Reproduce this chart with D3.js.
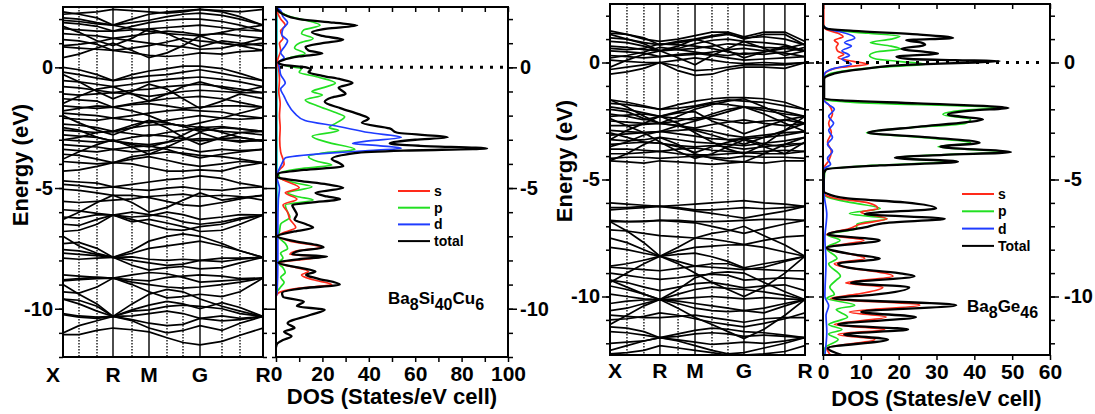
<!DOCTYPE html>
<html>
<head>
<meta charset="utf-8">
<script src="https://cdn.jsdelivr.net/npm/d3@7/dist/d3.min.js"></script>
<style>
body { margin: 0; background: #fff; }
svg text { font-family: "Liberation Sans", Arial, sans-serif; font-weight: bold; fill: #000; }
</style>
</head>
<body>
<div id="chart-area"></div>
<script>
// ---- k-path (fraction along path) and labels ----
const leftKPos = [0, 0.08, 0.17, 0.25, 0.345, 0.43, 0.52, 0.60, 0.685, 0.795, 0.885, 1];
const rightKPos = [0, 0.087, 0.174, 0.256, 0.349, 0.436, 0.523, 0.605, 0.687, 0.79, 0.897, 1];
const kLabels = ["X", "", "", "R", "", "M", "", "", "G", "", "", "R"];

// ---- band energies (eV) at each k-point, Ba8Si40Cu6 ----
const leftBands = [
    [-11.07, -11.07, -10.9, -10.8, -10.87, -10.96, -11.2, -11.4, -11.5, -11.35, -11.1, -10.8],
    [-10.2, -10.3, -10.35, -10.32, -10.45, -10.6, -10.7, -10.65, -10.4, -10.5, -10.45, -10.32],
    [-9.6, -9.8, -10.1, -10.32, -10.1, -10.05, -9.9, -9.85, -9.9, -10.0, -10.2, -10.32],
    [-10.25, -10.35, -10.4, -10.32, -10.3, -10.2, -10.1, -10.2, -10.4, -10.3, -10.4, -10.32],
    [-9.6, -9.65, -9.9, -10.32, -10.05, -9.85, -9.7, -9.8, -10.0, -9.75, -9.95, -10.32],
    [-9.0, -9.4, -9.8, -10.32, -9.8, -9.4, -9.2, -9.3, -9.6, -9.9, -10.1, -10.32],
    [-11.0, -10.7, -10.5, -10.32, -10.5, -10.8, -11.0, -10.9, -10.7, -10.9, -10.6, -10.32],
    [-8.8, -8.75, -8.7, -8.73, -8.9, -9.0, -9.1, -9.15, -9.1, -9.0, -8.9, -8.73],
    [-8.85, -8.8, -8.75, -8.73, -8.8, -8.85, -8.7, -8.65, -8.6, -8.65, -8.75, -8.73],
    [-8.6, -8.65, -8.7, -8.73, -8.6, -8.5, -8.55, -8.7, -8.9, -8.85, -8.8, -8.73],
    [-9.3, -9.35, -9.1, -8.73, -9.0, -9.3, -9.55, -9.5, -9.4, -9.5, -9.3, -8.73],
    [-7.55, -7.6, -7.75, -7.87, -7.7, -7.5, -7.4, -7.3, -7.2, -7.4, -7.6, -7.87],
    [-7.7, -7.75, -7.8, -7.87, -8.0, -8.1, -8.2, -8.15, -8.0, -8.05, -7.95, -7.87],
    [-7.9, -7.95, -7.9, -7.87, -7.85, -7.95, -8.0, -7.95, -8.0, -7.9, -7.9, -7.87],
    [-7.3, -7.25, -7.5, -7.87, -8.2, -8.4, -8.3, -8.25, -8.35, -8.3, -8.1, -7.87],
    [-7.0, -7.4, -7.7, -7.87, -7.6, -7.2, -7.0, -6.9, -7.0, -7.3, -7.6, -7.87],
    [-6.2, -6.25, -6.1, -6.12, -6.3, -6.5, -6.7, -6.75, -6.6, -6.5, -6.3, -6.12],
    [-6.5, -6.55, -6.3, -6.12, -6.0, -6.1, -6.2, -6.4, -6.5, -6.4, -6.25, -6.12],
    [-5.9, -5.95, -6.05, -6.12, -6.2, -6.15, -6.0, -6.1, -6.3, -6.2, -6.1, -6.12],
    [-6.8, -6.75, -6.5, -6.12, -6.4, -6.3, -6.45, -6.6, -6.8, -6.75, -6.5, -6.12],
    [-6.3, -6.0, -5.6, -5.3, -5.6, -6.0, -5.8, -5.5, -5.2, -5.5, -5.4, -5.3],
    [-5.55, -5.6, -5.55, -5.5, -5.45, -5.35, -5.3, -5.25, -5.35, -5.3, -5.35, -5.5],
    [-5.05, -5.1, -5.2, -5.3, -5.3, -5.4, -5.55, -5.7, -5.75, -5.6, -5.45, -5.3],
    [-4.85, -4.9, -5.0, -4.95, -5.05, -5.1, -5.0, -4.95, -5.05, -5.1, -5.0, -4.95],
    [-4.7, -4.75, -4.8, -4.95, -4.85, -4.75, -4.65, -4.6, -4.5, -4.6, -4.8, -4.95],
    [-4.3, -4.25, -4.1, -3.95, -4.0, -4.15, -4.3, -4.3, -4.25, -4.3, -4.1, -3.95],
    [-3.9, -3.95, -4.0, -3.95, -3.8, -3.7, -3.85, -4.0, -4.1, -4.0, -3.9, -3.95],
    [-3.6, -3.65, -3.8, -3.95, -3.7, -3.6, -3.5, -3.55, -3.65, -3.7, -3.8, -3.95],
    [-3.4, -3.45, -3.5, -3.4, -3.5, -3.45, -3.3, -3.35, -3.5, -3.4, -3.45, -3.4],
    [-3.2, -3.25, -3.3, -3.4, -3.3, -3.25, -3.4, -3.6, -3.75, -3.6, -3.5, -3.4],
    [-3.0, -3.05, -3.1, -3.05, -3.15, -3.2, -3.1, -3.0, -2.95, -3.0, -3.05, -3.05],
    [-2.8, -2.85, -2.9, -3.05, -2.9, -2.8, -2.85, -2.95, -3.05, -2.95, -2.9, -3.05],
    [-2.6, -2.65, -2.7, -2.65, -2.75, -2.85, -2.7, -2.6, -2.55, -2.65, -2.7, -2.65],
    [-2.35, -2.4, -2.5, -2.65, -2.5, -2.4, -2.35, -2.4, -2.5, -2.45, -2.55, -2.65],
    [-2.1, -2.15, -2.2, -2.1, -2.2, -2.3, -2.2, -2.1, -2.0, -2.1, -2.15, -2.1],
    [-1.9, -1.95, -2.0, -2.1, -2.0, -1.9, -1.8, -1.75, -1.8, -1.85, -2.0, -2.1],
    [-1.6, -1.65, -1.7, -1.65, -1.55, -1.5, -1.6, -1.7, -1.65, -1.6, -1.6, -1.65],
    [-1.3, -1.35, -1.4, -1.65, -1.5, -1.4, -1.3, -1.25, -1.2, -1.3, -1.45, -1.65],
    [-1.1, -1.15, -1.1, -1.05, -1.1, -1.2, -1.1, -1.0, -0.95, -1.0, -1.05, -1.05],
    [-0.8, -0.85, -0.95, -1.05, -0.95, -0.9, -0.8, -0.75, -0.7, -0.8, -0.9, -1.05],
    [-0.55, -0.6, -0.7, -0.8, -0.7, -0.6, -0.5, -0.45, -0.4, -0.5, -0.6, -0.8],
    [-0.2, -0.3, -0.45, -0.55, -0.45, -0.35, -0.3, -0.2, -0.1, -0.25, -0.4, -0.55],
    [0.0, -0.1, -0.3, -0.55, -0.3, -0.15, -0.05, 0.05, 0.05, -0.05, -0.25, -0.55],
    [-0.3, -0.6, -1.0, -1.3, -1.0, -0.7, -0.9, -1.3, -1.7, -1.4, -1.1, -1.3],
    [-1.5, -1.2, -0.9, -0.8, -1.1, -1.4, -1.1, -0.8, -0.6, -0.85, -1.0, -0.8],
    [-2.0, -2.3, -2.6, -2.8, -2.5, -2.2, -2.5, -2.9, -3.2, -2.9, -2.7, -2.8],
    [-3.8, -3.5, -3.2, -3.0, -3.3, -3.6, -3.3, -3.0, -2.7, -3.0, -3.1, -3.0],
    [-2.5, -2.6, -2.9, -3.05, -3.2, -3.3, -3.1, -2.8, -2.45, -2.7, -2.9, -3.05],
    [-3.0, -2.9, -2.7, -2.65, -2.4, -2.2, -2.3, -2.45, -2.65, -2.5, -2.55, -2.65],
    [-1.8, -1.7, -1.6, -1.65, -1.8, -2.0, -2.3, -2.45, -2.3, -2.1, -1.9, -1.65],
    [0.85, 0.8, 0.75, 0.7, 0.8, 0.9, 1.05, 1.2, 1.1, 1.0, 0.9, 0.7],
    [1.15, 1.1, 0.95, 0.7, 0.6, 0.5, 0.45, 0.5, 0.6, 0.55, 0.65, 0.7],
    [0.9, 0.95, 1.05, 1.2, 1.1, 1.0, 0.9, 0.85, 0.75, 0.8, 0.95, 1.2],
    [0.4, 0.55, 0.8, 1.0, 0.7, 0.4, 0.6, 0.9, 1.3, 1.0, 0.9, 1.0],
    [1.7, 1.45, 1.1, 0.9, 1.2, 1.6, 1.4, 1.1, 0.85, 1.1, 1.0, 0.9],
    [1.4, 1.35, 1.3, 1.2, 1.3, 1.4, 1.5, 1.45, 1.35, 1.4, 1.3, 1.2],
    [1.6, 1.55, 1.5, 1.5, 1.55, 1.6, 1.65, 1.7, 1.75, 1.65, 1.55, 1.5],
    [1.85, 1.8, 1.7, 1.5, 1.7, 1.85, 1.95, 2.0, 2.0, 1.9, 1.75, 1.5],
    [2.05, 2.0, 1.85, 1.75, 1.85, 1.95, 2.1, 2.2, 2.25, 2.15, 2.0, 1.75],
    [2.3, 2.2, 2.05, 1.75, 2.0, 2.2, 2.3, 2.35, 2.4, 2.3, 2.1, 1.75],
    [1.95, 1.9, 1.8, 1.75, 1.6, 1.5, 1.4, 1.35, 1.3, 1.45, 1.6, 1.75],
    [2.2, 2.25, 2.3, 2.4, 2.35, 2.3, 2.25, 2.3, 2.4, 2.35, 2.3, 2.4]
];

// ---- band energies (eV), Ba8Ge46 ----
const rightBands = [
    [-0.5, -0.4, -0.25, 0.0, -0.35, -0.55, -0.5, -0.3, -0.2, -0.2, -0.25, 0.0],
    [-0.3, -0.2, -0.1, 0.0, -0.15, -0.35, -0.3, -0.2, -0.1, -0.1, -0.1, 0.0],
    [0.1, 0.05, 0.0, 0.0, 0.1, 0.2, 0.1, 0.0, -0.05, 0.0, -0.05, 0.0],
    [0.3, 0.25, 0.2, 0.25, 0.35, 0.4, 0.3, 0.2, 0.1, 0.15, 0.2, 0.25],
    [0.5, 0.45, 0.4, 0.25, 0.3, 0.35, 0.45, 0.55, 0.6, 0.5, 0.4, 0.25],
    [0.7, 0.65, 0.55, 0.5, 0.55, 0.6, 0.7, 0.8, 0.75, 0.65, 0.6, 0.5],
    [0.9, 0.85, 0.7, 0.5, 0.6, 0.8, 0.95, 1.0, 0.9, 0.85, 0.75, 0.5],
    [1.05, 1.0, 0.85, 0.75, 0.85, 0.95, 1.1, 1.2, 1.05, 1.1, 1.0, 0.75],
    [1.25, 1.2, 1.05, 0.75, 0.9, 1.0, 1.15, 1.25, 1.0, 1.2, 1.2, 0.75],
    [1.35, 1.2, 1.0, 0.9, 1.0, 1.15, 1.3, 1.3, 1.1, 1.3, 1.3, 0.9],
    [0.6, 0.55, 0.6, 0.8, 0.75, 0.7, 0.6, 0.45, 0.35, 0.45, 0.6, 0.8],
    [0.2, 0.3, 0.45, 0.65, 0.55, 0.45, 0.35, 0.3, 0.4, 0.35, 0.45, 0.65],
    [1.2, 1.0, 0.8, 0.5, 0.2, -0.1, 0.3, 0.6, 0.9, 0.6, 0.3, 0.5],
    [-0.2, 0.1, 0.35, 0.5, 0.7, 1.0, 0.8, 0.5, 0.2, 0.45, 0.7, 0.5],
    [-1.6, -1.7, -1.85, -2.0, -1.8, -1.65, -1.55, -1.5, -1.5, -1.55, -1.7, -2.0],
    [-1.75, -1.8, -1.9, -2.0, -1.95, -1.85, -1.7, -1.6, -1.65, -1.7, -1.85, -2.0],
    [-1.9, -2.0, -2.15, -2.3, -2.1, -1.9, -1.75, -1.8, -1.9, -1.95, -2.1, -2.3],
    [-2.3, -2.25, -2.2, -2.3, -2.4, -2.45, -2.2, -2.0, -1.9, -2.05, -2.2, -2.3],
    [-2.5, -2.55, -2.6, -2.6, -2.5, -2.35, -2.4, -2.5, -2.6, -2.5, -2.45, -2.6],
    [-2.7, -2.7, -2.65, -2.6, -2.7, -2.8, -2.65, -2.55, -2.45, -2.6, -2.7, -2.6],
    [-2.9, -2.95, -3.0, -2.95, -2.9, -2.85, -2.95, -3.1, -3.2, -3.1, -3.0, -2.95],
    [-3.1, -3.05, -3.0, -2.95, -3.05, -3.15, -3.25, -3.3, -3.25, -3.2, -3.1, -2.95],
    [-3.3, -3.35, -3.3, -3.2, -3.3, -3.4, -3.45, -3.5, -3.55, -3.45, -3.35, -3.2],
    [-3.5, -3.45, -3.4, -3.45, -3.55, -3.6, -3.55, -3.6, -3.7, -3.6, -3.5, -3.45],
    [-3.7, -3.7, -3.75, -3.8, -3.7, -3.65, -3.75, -3.8, -3.85, -3.8, -3.75, -3.8],
    [-3.9, -3.9, -3.85, -3.8, -3.9, -3.95, -3.95, -3.9, -3.85, -3.9, -3.9, -3.8],
    [-4.1, -4.05, -4.05, -4.1, -4.05, -4.0, -4.05, -4.1, -4.0, -4.05, -4.05, -4.1],
    [-4.2, -4.25, -4.3, -4.2, -4.25, -4.3, -4.35, -4.3, -4.25, -4.3, -4.2, -4.2],
    [-2.0, -2.1, -2.4, -2.6, -2.7, -2.9, -3.1, -3.3, -3.5, -3.2, -2.9, -2.6],
    [-3.6, -3.4, -3.1, -2.95, -2.7, -2.5, -2.3, -2.1, -1.9, -2.2, -2.6, -2.95],
    [-3.0, -3.2, -3.4, -3.45, -3.6, -3.85, -3.6, -3.4, -3.25, -3.5, -3.6, -3.45],
    [-2.2, -2.3, -2.45, -2.3, -2.15, -2.1, -2.5, -2.75, -3.05, -2.75, -2.45, -2.3],
    [-1.6, -1.9, -2.3, -2.6, -2.3, -2.0, -1.8, -1.65, -1.55, -1.9, -2.3, -2.6],
    [-3.3, -2.9, -2.6, -2.3, -2.6, -3.0, -3.4, -3.7, -3.9, -3.5, -2.9, -2.3],
    [-4.2, -3.9, -3.5, -3.2, -3.5, -3.9, -4.1, -4.2, -4.25, -3.9, -3.5, -3.2],
    [-2.4, -2.7, -3.0, -3.4, -3.8, -4.1, -3.9, -3.6, -3.3, -3.6, -3.9, -3.4],
    [-6.0, -6.05, -6.1, -6.15, -6.1, -6.05, -6.0, -5.95, -5.9, -6.0, -6.05, -6.15],
    [-6.2, -6.2, -6.15, -6.15, -6.2, -6.3, -6.3, -6.25, -6.2, -6.25, -6.2, -6.15],
    [-6.3, -6.25, -6.2, -6.15, -6.25, -6.35, -6.45, -6.55, -6.65, -6.5, -6.35, -6.15],
    [-6.75, -6.8, -6.8, -6.75, -6.8, -6.85, -7.0, -7.15, -7.3, -7.1, -6.9, -6.75],
    [-6.8, -6.8, -6.78, -6.75, -6.75, -6.8, -6.8, -6.78, -6.75, -6.7, -6.7, -6.75],
    [-7.15, -7.2, -7.3, -7.4, -7.45, -7.5, -7.55, -7.65, -7.78, -7.6, -7.45, -7.4],
    [-7.5, -7.7, -8.0, -8.28, -8.05, -7.9, -7.85, -7.8, -7.78, -7.9, -8.1, -8.28],
    [-6.8, -7.2, -7.7, -8.28, -7.9, -7.5, -7.3, -7.2, -7.0, -7.4, -7.8, -8.28],
    [-7.9, -8.0, -8.15, -8.28, -8.2, -8.15, -8.3, -8.5, -8.77, -8.6, -8.45, -8.28],
    [-8.7, -8.6, -8.45, -8.28, -8.5, -8.7, -8.75, -8.8, -8.85, -8.75, -8.5, -8.28],
    [-9.4, -9.0, -8.6, -8.28, -8.6, -9.0, -9.4, -9.7, -10.0, -9.6, -9.0, -8.28],
    [-8.75, -8.8, -8.85, -8.9, -8.8, -8.7, -8.6, -8.6, -8.8, -8.85, -8.9, -8.9],
    [-9.0, -9.1, -9.2, -9.27, -9.2, -9.1, -9.05, -9.1, -9.3, -9.25, -9.2, -9.27],
    [-9.3, -9.4, -9.6, -9.75, -9.6, -9.45, -9.4, -9.5, -9.63, -9.55, -9.5, -9.75],
    [-9.55, -9.7, -9.9, -10.13, -9.9, -9.7, -9.6, -9.65, -9.7, -9.8, -9.95, -10.13],
    [-9.3, -9.6, -9.9, -10.13, -9.7, -9.2, -9.0, -8.95, -9.0, -9.4, -9.8, -10.13],
    [-9.9, -10.0, -10.1, -10.13, -10.1, -10.05, -10.0, -10.05, -10.1, -10.05, -10.1, -10.13],
    [-10.3, -10.2, -10.15, -10.13, -10.2, -10.3, -10.4, -10.5, -10.6, -10.5, -10.3, -10.13],
    [-10.6, -10.5, -10.3, -10.13, -10.3, -10.5, -10.6, -10.65, -10.6, -10.7, -10.4, -10.13],
    [-11.2, -10.8, -10.4, -10.13, -10.5, -10.9, -11.2, -11.5, -11.8, -11.4, -10.8, -10.13],
    [-10.8, -10.85, -10.9, -10.9, -10.85, -10.8, -10.9, -11.0, -11.1, -10.95, -10.9, -10.9],
    [-11.0, -10.95, -10.85, -10.7, -10.8, -10.95, -11.1, -11.2, -11.3, -11.15, -10.95, -10.7],
    [-11.3, -11.35, -11.5, -11.76, -11.6, -11.45, -11.35, -11.4, -11.5, -11.55, -11.65, -11.76],
    [-11.5, -11.55, -11.65, -11.76, -11.7, -11.6, -11.55, -11.6, -11.7, -11.65, -11.7, -11.76],
    [-12.0, -11.95, -11.9, -11.76, -11.85, -11.95, -12.05, -12.0, -11.95, -12.0, -11.9, -11.76],
    [-12.3, -12.1, -11.9, -11.76, -11.9, -12.1, -12.3, -12.45, -12.4, -12.2, -12.0, -11.76],
    [-12.45, -12.4, -12.3, -12.1, -12.2, -12.3, -12.4, -12.5, -12.5, -12.45, -12.35, -12.1]
];

// ---- DOS: [energy (eV), states/eV cell] ----
const leftTotal = [[2.5,0],[2.4,0.5],[2.2,3],[2.0,10],[1.85,25],[1.74,35],[1.6,22],[1.45,15.5],[1.3,20],[1.14,29],[1.0,20],[0.85,12.7],[0.7,14],[0.57,20],[0.45,10],[0.3,3],[0.2,1],[0.1,3],[0.0,13],[-0.1,15],[-0.2,14],[-0.35,20],[-0.5,28],[-0.65,33],[-0.84,27],[-1.1,30],[-1.25,24],[-1.43,21],[-1.7,28],[-1.95,36],[-2.12,40],[-2.3,37],[-2.53,49],[-2.7,52],[-2.9,74],[-3.0,60],[-3.15,49],[-3.25,62],[-3.36,91],[-3.45,55],[-3.55,34],[-3.8,24],[-3.95,27],[-4.1,29],[-4.25,12],[-4.4,1],[-4.55,0.5],[-4.7,10],[-4.85,22],[-4.99,29],[-5.2,17],[-5.35,22],[-5.46,27.6],[-5.6,15],[-5.7,7],[-5.9,8],[-6.1,9],[-6.3,8],[-6.5,13],[-6.64,16],[-6.8,8],[-7.0,0.5],[-7.2,8],[-7.46,20.5],[-7.6,10],[-7.75,7],[-7.84,22],[-7.95,10],[-8.1,1],[-8.3,10],[-8.46,17],[-8.6,13],[-8.75,18],[-9.0,27.5],[-9.15,12],[-9.35,2.6],[-9.5,3],[-9.7,12],[-9.9,9],[-10.04,21],[-10.25,15],[-10.6,5],[-10.8,8],[-10.95,3.5],[-11.14,6.7],[-11.3,3],[-11.45,0.5],[-11.6,0]];
const leftS = [[2.5,0],[2.3,0.5],[2.0,2],[1.75,4],[1.5,2],[1.2,3],[1.0,1.5],[0.7,2],[0.4,1],[0.2,0.5],[0.0,1],[-0.5,1.5],[-1.0,1.2],[-1.5,1.8],[-2.0,1.5],[-2.5,1.8],[-3.0,1.6],[-3.5,2],[-4.0,3.5],[-4.3,1],[-4.5,0.3],[-4.7,4],[-4.99,10],[-5.2,4],[-5.46,9],[-5.7,3],[-6.0,5],[-6.3,6],[-6.64,8.5],[-6.9,2],[-7.0,0.5],[-7.2,6],[-7.46,19.5],[-7.6,9],[-7.75,6],[-7.84,20],[-8.0,8],[-8.1,0.5],[-8.3,9],[-8.46,14],[-8.6,11],[-8.8,16],[-9.0,24],[-9.15,10],[-9.35,1],[-9.5,0]];
const leftP = [[2.5,0],[2.3,2],[2.1,6],[1.9,15],[1.74,19],[1.55,12],[1.4,11],[1.2,16],[1.0,10],[0.8,8],[0.57,12.5],[0.4,6],[0.2,1],[0.05,5],[-0.05,11],[-0.2,10],[-0.4,18],[-0.65,25.6],[-0.85,20],[-1.0,15.5],[-1.15,20],[-1.35,12.6],[-1.6,18],[-1.85,25],[-2.05,29.6],[-2.3,26],[-2.5,23],[-2.62,27],[-2.85,15.6],[-3.1,22],[-3.4,34],[-3.55,20],[-3.7,14],[-3.9,18],[-4.05,24],[-4.2,10],[-4.4,1],[-4.6,2],[-4.8,9],[-4.95,15.5],[-5.2,5],[-5.35,9],[-5.5,16],[-5.7,4],[-6.0,5],[-6.2,6],[-6.5,2],[-6.8,1.5],[-7.0,1],[-7.3,4],[-7.5,5],[-7.7,2],[-7.9,3],[-8.1,1],[-8.3,3],[-8.5,4],[-8.7,2],[-8.9,3.5],[-9.1,2],[-9.3,0.5],[-9.5,0]];
const leftD = [[2.5,0],[2.35,2],[2.1,3],[1.85,5],[1.6,3],[1.35,2.5],[1.1,5],[0.9,4],[0.6,2],[0.4,3.5],[0.2,1],[0.0,1.5],[-0.3,2],[-0.65,4],[-0.9,2],[-1.2,3.5],[-1.5,5],[-1.9,8],[-2.2,12.5],[-2.45,27],[-2.7,40],[-2.9,54],[-3.05,40],[-3.15,33],[-3.25,45],[-3.35,54],[-3.45,40],[-3.55,23],[-3.75,4],[-4.0,2.5],[-4.3,1],[-4.5,0.3],[-4.8,1],[-5.0,1.5],[-5.5,1],[-6.5,0.8],[-8.0,0.8],[-9.3,0.5],[-9.5,0]];
const leftF = [[2.5,0.4],[-9.3,0.4]];

const rightTotal = [[1.6,0],[1.45,0.8],[1.35,8],[1.2,25],[1.05,34.4],[0.95,22],[0.85,26],[0.75,27],[0.58,20.7],[0.45,27],[0.38,30.4],[0.25,19.4],[0.15,23],[0.1,35],[0.06,46.7],[0.0,40],[-0.1,22],[-0.25,12],[-0.4,5],[-0.55,1.5],[-0.7,0.3],[-1.55,0.3],[-1.62,5],[-1.75,25],[-1.94,49],[-2.05,40],[-2.22,33],[-2.44,42.3],[-2.55,38],[-2.75,25],[-3.0,11.9],[-3.2,28],[-3.43,41.4],[-3.6,31],[-3.83,49.7],[-3.95,32],[-4.07,19],[-4.24,35.7],[-4.4,15],[-4.57,0.8],[-4.8,0.2],[-5.5,0.2],[-5.6,1],[-5.8,6],[-5.98,21.6],[-6.24,29.9],[-6.47,11],[-6.68,32.2],[-6.85,17],[-7.05,11],[-7.35,1.3],[-7.6,15],[-7.92,1],[-8.2,8],[-8.38,15],[-8.6,4],[-8.8,8],[-9.0,20],[-9.13,24.2],[-9.42,7.4],[-9.6,22.8],[-9.93,13],[-10.08,2.6],[-10.37,35.2],[-10.66,10.1],[-10.88,24.6],[-11.2,4],[-11.41,22.5],[-11.62,5.6],[-11.84,17.2],[-12.2,1.3],[-12.5,5]];
const rightS = [[2.5,0.2],[1.5,0.2],[1.4,1],[1.25,4],[1.1,5.3],[0.95,3],[0.8,4],[0.65,3.5],[0.5,3.8],[0.35,5.5],[0.2,4],[0.05,8],[-0.08,11.9],[-0.2,5],[-0.35,1.5],[-0.55,0.3],[-1.6,0.3],[-1.8,1.5],[-2.2,2.5],[-2.6,1.5],[-3.0,2.2],[-3.4,1.2],[-3.8,2.2],[-4.2,1.5],[-4.5,0.3],[-5.6,0.3],[-5.8,3],[-6.0,12],[-6.24,14.5],[-6.4,10],[-6.68,16.9],[-6.9,10],[-7.1,7],[-7.35,1],[-7.6,10.8],[-7.92,0.8],[-8.38,11],[-8.6,3],[-9.13,18.5],[-9.42,6],[-9.6,15.8],[-9.9,9],[-10.08,2],[-10.37,25.6],[-10.66,7],[-10.88,16.7],[-11.2,3],[-11.41,16.3],[-11.62,4],[-11.84,13.7],[-12.2,1],[-12.5,2]];
const rightP = [[1.55,0],[1.4,2],[1.25,12],[1.12,20.3],[1.0,18],[0.85,12.5],[0.7,18],[0.58,20.5],[0.45,14],[0.3,12.3],[0.15,14],[0.05,20],[-0.08,27.3],[-0.2,15],[-0.35,6.2],[-0.5,1.5],[-0.7,0.2],[-1.6,0.2],[-1.7,8],[-1.94,46],[-2.05,37],[-2.22,31.7],[-2.44,39],[-2.6,37.6],[-2.8,22],[-3.0,11.5],[-3.2,26],[-3.43,39],[-3.6,30.4],[-3.83,47],[-3.95,30],[-4.07,19.5],[-4.24,33],[-4.4,13],[-4.57,0.5],[-5.6,0.2],[-5.8,2],[-6.0,8],[-6.24,15.1],[-6.45,7],[-6.68,16.9],[-6.9,9],[-7.1,8.8],[-7.35,1],[-7.6,4.5],[-7.92,0.8],[-8.38,3.7],[-8.6,1.5],[-9.13,4.6],[-9.3,3.5],[-9.6,1.8],[-9.9,3],[-10.08,1],[-10.37,8.4],[-10.55,3.5],[-10.88,6.5],[-11.2,1.5],[-11.41,5],[-11.6,1.5],[-11.84,4],[-12.2,0.5],[-12.5,0.5]];
const rightD = [[1.55,0],[1.4,2],[1.25,6],[1.05,8.4],[0.85,5.7],[0.7,7.5],[0.5,5],[0.3,7],[0.15,5],[-0.08,7.5],[-0.25,3],[-0.45,0.5],[-0.7,0.2],[-1.6,0.2],[-1.8,1.5],[-2.0,3],[-2.3,1.5],[-2.6,2.8],[-2.9,1.5],[-3.2,2.5],[-3.5,1.2],[-3.8,2.5],[-4.1,1.2],[-4.35,2],[-4.55,0.3],[-5.6,0.3],[-6.5,1],[-7.5,0.5],[-8.5,0.8],[-10.0,0.5],[-10.4,1.5],[-10.8,0.8],[-11.5,1],[-12.5,0.5]];

const leftLegend = ["s", "p", "d", "total"];
const rightLegend = ["s", "p", "d", "Total"];
const colors = { s: "#ff2a1a", p: "#22e022", d: "#1f3cff", total: "#000", f: "#00c8c8" };

const width = 1095;
const height = 414;

const svg = d3.select("#chart-area")
    .append("svg")
    .attr("width", width)
    .attr("height", height);

let clipId = 0;
const clip = (x, y, w, h) => {
    const id = "clip" + (clipId++);
    svg.append("clipPath").attr("id", id)
        .append("rect").attr("x", x).attr("y", y).attr("width", w).attr("height", h);
    return "url(#" + id + ")";
};

const drawPanel = (p) => {
    const y = d3.scaleLinear().domain([p.eMin, p.eMax]).range([p.yBot, p.yTop]);
    const kx = d3.scaleLinear().domain([0, 1]).range([p.bandX0, p.bandX1]);
    const dx = d3.scaleLinear().domain([0, p.dosMax]).range([p.dosX0, p.dosX1]);
    const minor = d3.range(Math.ceil(p.eMin), Math.floor(p.eMax) + 1);
    const major = minor.filter(d => d % 5 === 0);

    // k-point vertical lines
    const kg = svg.append("g");
    p.kPos.forEach((k, i) => {
        if (i === 0 || i === p.kPos.length - 1) return;
        const solid = kLabels[i] !== "" || p.solidExtra.includes(i);
        kg.append("line")
            .attr("x1", kx(k)).attr("x2", kx(k))
            .attr("y1", p.yTop).attr("y2", p.yBot)
            .attr("stroke", "#000")
            .attr("stroke-width", solid ? 1.4 : 1.3)
            .attr("stroke-dasharray", solid ? null : "1.5,1.5");
    });

    // bands
    const bandLine = d3.line().x((d, i) => kx(p.kPos[i])).y(d => y(d));
    svg.append("g")
        .attr("clip-path", clip(p.bandX0, p.yTop, p.bandX1 - p.bandX0, p.yBot - p.yTop))
        .selectAll("path").data(p.bands).enter()
        .append("path")
        .attr("d", bandLine)
        .attr("fill", "none")
        .attr("stroke", "#000")
        .attr("stroke-width", 1.7);

    // DOS curves
    const dosLine = d3.line().x(d => dx(d[1])).y(d => y(d[0])).curve(d3.curveMonotoneY);
    const dg = svg.append("g")
        .attr("clip-path", clip(p.dosX0, p.yTop, p.dosX1 - p.dosX0, p.yBot - p.yTop));
    p.dos.forEach(s => {
        dg.append("path")
            .attr("d", dosLine(s.data))
            .attr("fill", "none")
            .attr("stroke", colors[s.key])
            .attr("stroke-width", s.key === "total" ? 2.3 : 1.7)
            .attr("stroke-linejoin", "round");
    });

    // Fermi level
    svg.append("line")
        .attr("x1", p.fermiX0).attr("x2", p.fermiX1)
        .attr("y1", y(0)).attr("y2", y(0))
        .attr("stroke", "#000")
        .attr("stroke-width", 3)
        .attr("stroke-dasharray", "3,7");

    // frames
    [[p.bandX0, p.bandX1], [p.dosX0, p.dosX1]].forEach(([a, b]) => {
        svg.append("rect")
            .attr("x", a).attr("y", p.yTop)
            .attr("width", b - a).attr("height", p.yBot - p.yTop)
            .attr("fill", "none").attr("stroke", "#000").attr("stroke-width", 2);
    });

    // energy axes
    const noLabel = () => "";
    const addAxis = (axis, x, values, size, fmt, pad) => {
        svg.append("g")
            .attr("transform", "translate(" + x + ",0)")
            .call(axis(y).tickValues(values).tickSize(size).tickPadding(pad || 3).tickFormat(fmt))
            .call(g => g.select(".domain").remove())
            .call(g => g.selectAll("line").attr("stroke-width", 1.5))
            .call(g => g.selectAll("text").attr("font-size", 20).attr("font-family", null));
    };
    addAxis(d3.axisLeft, p.bandX0, minor, 4, noLabel);
    addAxis(d3.axisLeft, p.bandX0, major, 8, d => String(d), 2);
    addAxis(d3.axisRight, p.bandX1, minor, 4, noLabel);
    addAxis(d3.axisRight, p.bandX1, major, 9, noLabel);
    addAxis(d3.axisLeft, p.dosX0, minor, 4, noLabel);
    addAxis(d3.axisRight, p.dosX1, minor, 5, noLabel);
    addAxis(d3.axisRight, p.dosX1, major, 9, d => String(d), p.rightPad);

    // DOS axes
    const dosTicks = d3.range(0, p.dosMax + 1, 10);
    svg.append("g")
        .attr("transform", "translate(0," + p.yBot + ")")
        .call(d3.axisBottom(dx).tickValues(dosTicks).tickSize(5).tickPadding(4)
            .tickFormat(d => d % p.labelStep === 0 ? String(d) : ""))
        .call(g => g.select(".domain").remove())
        .call(g => g.selectAll("line").attr("stroke-width", 1.5))
        .call(g => g.selectAll("text").attr("font-size", 21).attr("font-family", null));
    svg.append("g")
        .attr("transform", "translate(0," + p.yTop + ")")
        .call(d3.axisBottom(dx).tickValues(dosTicks).tickSize(5).tickFormat(noLabel))
        .call(g => g.select(".domain").remove())
        .call(g => g.selectAll("line").attr("stroke-width", 1.5));

    // k labels
    p.kPos.forEach((k, i) => {
        if (kLabels[i] === "") return;
        svg.append("text")
            .attr("x", kx(k) + (i === 0 ? p.xLabelDx : 0))
            .attr("y", p.kLabelY)
            .attr("text-anchor", "middle")
            .attr("font-size", 21)
            .text(kLabels[i]);
    });

    // axis titles
    svg.append("text")
        .attr("transform", "translate(" + p.eLabelX + "," + p.eLabelY + ") rotate(-90)")
        .attr("text-anchor", "middle")
        .attr("font-size", 22)
        .text("Energy (eV)");
    svg.append("text")
        .attr("x", (p.dosX0 + p.dosX1) / 2 + p.dosLabelDx)
        .attr("y", p.dosLabelY)
        .attr("text-anchor", "middle")
        .attr("font-size", 22)
        .text("DOS (States/eV cell)");

    // legend
    const lg = svg.append("g").attr("transform", "translate(" + p.legendX + "," + p.legendY + ")");
    p.legend.forEach((name, i) => {
        const key = ["s", "p", "d", "total"][i];
        lg.append("line")
            .attr("x1", 0).attr("x2", 32)
            .attr("y1", i * p.legendStep).attr("y2", i * p.legendStep)
            .attr("stroke", colors[key]).attr("stroke-width", 2);
        lg.append("text")
            .attr("x", 36).attr("y", i * p.legendStep)
            .attr("dy", "0.35em")
            .attr("font-size", 14)
            .text(name);
    });

    // compound name
    const t = svg.append("text")
        .attr("x", p.nameX).attr("y", p.nameY)
        .attr("font-size", 17);
    p.name.forEach((part, i) => {
        t.append("tspan")
            .attr("font-size", i % 2 ? 16 : 17)
            .attr("dy", i === 0 ? 0 : (i % 2 ? 6 : -6))
            .text(part);
    });
};

drawPanel({
    eMin: -12, eMax: 2.5, yTop: 7, yBot: 357,
    bandX0: 63, bandX1: 263, dosX0: 276, dosX1: 508, dosMax: 100, labelStep: 20,
    kPos: leftKPos, bands: leftBands, solidExtra: [],
    dos: [
        { key: "f", data: leftF },
        { key: "p", data: leftP },
        { key: "s", data: leftS },
        { key: "d", data: leftD },
        { key: "total", data: leftTotal }
    ],
    fermiX0: 280, fermiX1: 506, rightPad: 3,
    kLabelY: 382, xLabelDx: -10,
    eLabelX: 28, eLabelY: 165,
    dosLabelY: 404, dosLabelDx: 0,
    legend: leftLegend, legendX: 398, legendY: 191, legendStep: 16.7,
    name: ["Ba", "8", "Si", "40", "Cu", "6"], nameX: 388, nameY: 304
});

drawPanel({
    eMin: -12.5, eMax: 2.5, yTop: 4, yBot: 355,
    bandX0: 610, bandX1: 805, dosX0: 823, dosX1: 1050, dosMax: 60, labelStep: 10,
    kPos: rightKPos, bands: rightBands, solidExtra: [9, 10],
    dos: [
        { key: "p", data: rightP },
        { key: "s", data: rightS },
        { key: "d", data: rightD },
        { key: "total", data: rightTotal }
    ],
    fermiX0: 806, fermiX1: 1044, rightPad: 5,
    kLabelY: 378, xLabelDx: 5,
    eLabelX: 572, eLabelY: 161,
    dosLabelY: 406, dosLabelDx: 0,
    legend: rightLegend, legendX: 962, legendY: 194, legendStep: 17.3,
    name: ["Ba", "8", "Ge", "46"], nameX: 967, nameY: 312
});
</script>
</body>
</html>
